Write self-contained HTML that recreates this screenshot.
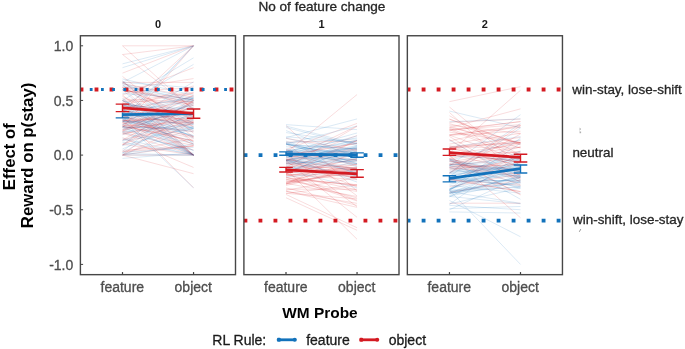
<!DOCTYPE html><html><head><meta charset="utf-8"><title>plot</title>
<style>html,body{margin:0;padding:0;background:#fff;}body{width:685px;height:349px;overflow:hidden;}svg{display:block;will-change:transform;}text{stroke-width:0.3px;paint-order:stroke;font-family:"Liberation Sans",Arial,Helvetica,sans-serif;}</style></head><body>
<svg width="685" height="349" viewBox="0 0 685 349">
<rect width="685" height="349" fill="#fff"/>
<text x="321.9" y="10.5" font-size="13.6" text-anchor="middle" fill="#262626" stroke="#262626">No of feature change</text>
<clipPath id="c0"><rect x="80.40" y="35.75" width="155.10" height="238.90"/></clipPath>
<g clip-path="url(#c0)">
<g stroke-width="0.8" fill="none" stroke-opacity="0.19">
<line x1="122.50" y1="87.33" x2="193.55" y2="155.10" stroke="#d41a22"/>
<line x1="122.50" y1="89.23" x2="193.55" y2="122.96" stroke="#1272bb"/>
<line x1="122.50" y1="155.10" x2="193.55" y2="155.10" stroke="#d41a22"/>
<line x1="122.50" y1="45.80" x2="193.55" y2="45.80" stroke="#d41a22"/>
<line x1="122.50" y1="126.53" x2="193.55" y2="137.65" stroke="#d41a22"/>
<line x1="122.50" y1="129.79" x2="193.55" y2="107.20" stroke="#1272bb"/>
<line x1="122.50" y1="119.03" x2="193.55" y2="155.10" stroke="#1272bb"/>
<line x1="122.50" y1="142.40" x2="193.55" y2="154.56" stroke="#1272bb"/>
<line x1="122.50" y1="90.28" x2="193.55" y2="102.03" stroke="#1272bb"/>
<line x1="122.50" y1="145.70" x2="193.55" y2="126.51" stroke="#1272bb"/>
<line x1="122.50" y1="54.54" x2="193.55" y2="109.19" stroke="#d41a22"/>
<line x1="122.50" y1="121.41" x2="193.55" y2="122.95" stroke="#1272bb"/>
<line x1="122.50" y1="120.96" x2="193.55" y2="127.94" stroke="#1272bb"/>
<line x1="122.50" y1="81.87" x2="193.55" y2="127.03" stroke="#d41a22"/>
<line x1="122.50" y1="134.63" x2="193.55" y2="114.32" stroke="#d41a22"/>
<line x1="122.50" y1="54.54" x2="193.55" y2="45.80" stroke="#d41a22"/>
<line x1="122.50" y1="120.45" x2="193.55" y2="117.86" stroke="#d41a22"/>
<line x1="122.50" y1="155.10" x2="193.55" y2="127.77" stroke="#1272bb"/>
<line x1="122.50" y1="102.15" x2="193.55" y2="92.04" stroke="#d41a22"/>
<line x1="122.50" y1="154.85" x2="193.55" y2="145.54" stroke="#d41a22"/>
<line x1="122.50" y1="145.24" x2="193.55" y2="104.88" stroke="#d41a22"/>
<line x1="122.50" y1="111.38" x2="193.55" y2="155.10" stroke="#1272bb"/>
<line x1="122.50" y1="118.88" x2="193.55" y2="135.49" stroke="#1272bb"/>
<line x1="122.50" y1="155.10" x2="193.55" y2="144.17" stroke="#1272bb"/>
<line x1="122.50" y1="124.14" x2="193.55" y2="107.46" stroke="#d41a22"/>
<line x1="122.50" y1="129.57" x2="193.55" y2="100.50" stroke="#d41a22"/>
<line x1="122.50" y1="104.35" x2="193.55" y2="93.06" stroke="#d41a22"/>
<line x1="122.50" y1="100.91" x2="193.55" y2="124.28" stroke="#1272bb"/>
<line x1="122.50" y1="111.38" x2="193.55" y2="45.80" stroke="#d41a22"/>
<line x1="122.50" y1="109.19" x2="193.55" y2="155.10" stroke="#d41a22"/>
<line x1="122.50" y1="103.20" x2="193.55" y2="116.06" stroke="#d41a22"/>
<line x1="122.50" y1="121.64" x2="193.55" y2="131.88" stroke="#1272bb"/>
<line x1="122.50" y1="78.94" x2="193.55" y2="95.19" stroke="#1272bb"/>
<line x1="122.50" y1="116.80" x2="193.55" y2="155.10" stroke="#1272bb"/>
<line x1="122.50" y1="93.43" x2="193.55" y2="99.17" stroke="#1272bb"/>
<line x1="122.50" y1="45.80" x2="193.55" y2="110.29" stroke="#d41a22"/>
<line x1="122.50" y1="80.77" x2="193.55" y2="144.11" stroke="#1272bb"/>
<line x1="122.50" y1="126.57" x2="193.55" y2="130.13" stroke="#1272bb"/>
<line x1="122.50" y1="109.59" x2="193.55" y2="85.83" stroke="#d41a22"/>
<line x1="122.50" y1="151.22" x2="193.55" y2="97.13" stroke="#1272bb"/>
<line x1="122.50" y1="103.18" x2="193.55" y2="123.01" stroke="#d41a22"/>
<line x1="122.50" y1="144.40" x2="193.55" y2="100.15" stroke="#d41a22"/>
<line x1="122.50" y1="103.85" x2="193.55" y2="113.39" stroke="#1272bb"/>
<line x1="122.50" y1="82.42" x2="193.55" y2="82.42" stroke="#d41a22"/>
<line x1="122.50" y1="158.38" x2="193.55" y2="152.91" stroke="#1272bb"/>
<line x1="122.50" y1="130.98" x2="193.55" y2="95.45" stroke="#d41a22"/>
<line x1="122.50" y1="116.46" x2="193.55" y2="117.08" stroke="#1272bb"/>
<line x1="122.50" y1="116.33" x2="193.55" y2="144.30" stroke="#d41a22"/>
<line x1="122.50" y1="100.66" x2="193.55" y2="103.62" stroke="#d41a22"/>
<line x1="122.50" y1="113.57" x2="193.55" y2="155.10" stroke="#1272bb"/>
<line x1="122.50" y1="110.41" x2="193.55" y2="96.70" stroke="#1272bb"/>
<line x1="122.50" y1="120.87" x2="193.55" y2="114.07" stroke="#d41a22"/>
<line x1="122.50" y1="126.20" x2="193.55" y2="143.84" stroke="#1272bb"/>
<line x1="122.50" y1="116.30" x2="193.55" y2="187.89" stroke="#d41a22"/>
<line x1="122.50" y1="105.26" x2="193.55" y2="116.70" stroke="#1272bb"/>
<line x1="122.50" y1="104.81" x2="193.55" y2="124.71" stroke="#1272bb"/>
<line x1="122.50" y1="122.92" x2="193.55" y2="136.46" stroke="#d41a22"/>
<line x1="122.50" y1="117.29" x2="193.55" y2="104.90" stroke="#1272bb"/>
<line x1="122.50" y1="67.66" x2="193.55" y2="45.80" stroke="#1272bb"/>
<line x1="122.50" y1="126.83" x2="193.55" y2="98.04" stroke="#1272bb"/>
<line x1="122.50" y1="124.69" x2="193.55" y2="111.55" stroke="#1272bb"/>
<line x1="122.50" y1="112.75" x2="193.55" y2="126.98" stroke="#1272bb"/>
<line x1="122.50" y1="132.03" x2="193.55" y2="149.98" stroke="#d41a22"/>
<line x1="122.50" y1="82.26" x2="193.55" y2="87.88" stroke="#1272bb"/>
<line x1="122.50" y1="83.68" x2="193.55" y2="98.62" stroke="#1272bb"/>
<line x1="122.50" y1="89.52" x2="193.55" y2="155.10" stroke="#1272bb"/>
<line x1="122.50" y1="131.35" x2="193.55" y2="103.76" stroke="#d41a22"/>
<line x1="122.50" y1="115.06" x2="193.55" y2="144.16" stroke="#d41a22"/>
<line x1="122.50" y1="105.31" x2="193.55" y2="109.04" stroke="#1272bb"/>
<line x1="122.50" y1="115.76" x2="193.55" y2="135.66" stroke="#1272bb"/>
<line x1="122.50" y1="144.46" x2="193.55" y2="118.40" stroke="#d41a22"/>
<line x1="122.50" y1="100.45" x2="193.55" y2="57.82" stroke="#1272bb"/>
<line x1="122.50" y1="94.98" x2="193.55" y2="67.66" stroke="#d41a22"/>
<line x1="122.50" y1="103.73" x2="193.55" y2="155.10" stroke="#1272bb"/>
<line x1="122.50" y1="128.05" x2="193.55" y2="122.26" stroke="#d41a22"/>
<line x1="122.50" y1="126.28" x2="193.55" y2="140.64" stroke="#d41a22"/>
<line x1="122.50" y1="151.91" x2="193.55" y2="146.26" stroke="#d41a22"/>
<line x1="122.50" y1="152.57" x2="193.55" y2="147.41" stroke="#1272bb"/>
<line x1="122.50" y1="117.46" x2="193.55" y2="99.19" stroke="#d41a22"/>
<line x1="122.50" y1="139.94" x2="193.55" y2="123.59" stroke="#d41a22"/>
<line x1="122.50" y1="83.44" x2="193.55" y2="108.91" stroke="#1272bb"/>
<line x1="122.50" y1="132.79" x2="193.55" y2="150.33" stroke="#1272bb"/>
<line x1="122.50" y1="130.67" x2="193.55" y2="145.47" stroke="#d41a22"/>
<line x1="122.50" y1="115.62" x2="193.55" y2="108.90" stroke="#d41a22"/>
<line x1="122.50" y1="98.26" x2="193.55" y2="155.10" stroke="#1272bb"/>
<line x1="122.50" y1="153.55" x2="193.55" y2="155.10" stroke="#1272bb"/>
<line x1="122.50" y1="112.32" x2="193.55" y2="92.96" stroke="#d41a22"/>
<line x1="122.50" y1="122.31" x2="193.55" y2="45.80" stroke="#1272bb"/>
<line x1="122.50" y1="105.91" x2="193.55" y2="64.38" stroke="#1272bb"/>
<line x1="122.50" y1="155.10" x2="193.55" y2="122.31" stroke="#d41a22"/>
<line x1="122.50" y1="83.52" x2="193.55" y2="97.16" stroke="#d41a22"/>
<line x1="122.50" y1="144.17" x2="193.55" y2="155.10" stroke="#d41a22"/>
<line x1="122.50" y1="139.95" x2="193.55" y2="101.39" stroke="#d41a22"/>
<line x1="122.50" y1="121.83" x2="193.55" y2="120.18" stroke="#1272bb"/>
<line x1="122.50" y1="100.45" x2="193.55" y2="128.84" stroke="#1272bb"/>
<line x1="122.50" y1="87.87" x2="193.55" y2="117.15" stroke="#d41a22"/>
<line x1="122.50" y1="91.84" x2="193.55" y2="87.69" stroke="#d41a22"/>
<line x1="122.50" y1="134.73" x2="193.55" y2="102.06" stroke="#1272bb"/>
<line x1="122.50" y1="152.91" x2="193.55" y2="111.38" stroke="#1272bb"/>
<line x1="122.50" y1="119.61" x2="193.55" y2="142.06" stroke="#1272bb"/>
<line x1="122.50" y1="107.14" x2="193.55" y2="98.50" stroke="#1272bb"/>
<line x1="122.50" y1="87.43" x2="193.55" y2="105.66" stroke="#d41a22"/>
<line x1="122.50" y1="155.10" x2="193.55" y2="155.10" stroke="#1272bb"/>
<line x1="122.50" y1="90.13" x2="193.55" y2="102.70" stroke="#d41a22"/>
<line x1="122.50" y1="140.52" x2="193.55" y2="114.78" stroke="#1272bb"/>
<line x1="122.50" y1="100.45" x2="193.55" y2="138.13" stroke="#1272bb"/>
<line x1="122.50" y1="105.91" x2="193.55" y2="155.10" stroke="#d41a22"/>
<line x1="122.50" y1="100.45" x2="193.55" y2="155.10" stroke="#d41a22"/>
<line x1="122.50" y1="114.66" x2="193.55" y2="96.83" stroke="#1272bb"/>
<line x1="122.50" y1="76.40" x2="193.55" y2="133.24" stroke="#d41a22"/>
<line x1="122.50" y1="119.95" x2="193.55" y2="105.77" stroke="#1272bb"/>
<line x1="122.50" y1="150.27" x2="193.55" y2="145.99" stroke="#d41a22"/>
<line x1="122.50" y1="111.21" x2="193.55" y2="114.96" stroke="#1272bb"/>
<line x1="122.50" y1="112.68" x2="193.55" y2="100.45" stroke="#1272bb"/>
<line x1="122.50" y1="137.61" x2="193.55" y2="167.45" stroke="#d41a22"/>
<line x1="122.50" y1="89.52" x2="193.55" y2="78.59" stroke="#d41a22"/>
<line x1="122.50" y1="122.06" x2="193.55" y2="94.94" stroke="#d41a22"/>
<line x1="122.50" y1="133.42" x2="193.55" y2="123.04" stroke="#d41a22"/>
<line x1="122.50" y1="86.45" x2="193.55" y2="100.45" stroke="#1272bb"/>
<line x1="122.50" y1="155.10" x2="193.55" y2="173.68" stroke="#d41a22"/>
<line x1="122.50" y1="120.86" x2="193.55" y2="118.71" stroke="#d41a22"/>
<line x1="122.50" y1="113.41" x2="193.55" y2="125.86" stroke="#d41a22"/>
<line x1="122.50" y1="112.26" x2="193.55" y2="114.48" stroke="#d41a22"/>
<line x1="122.50" y1="138.70" x2="193.55" y2="155.10" stroke="#1272bb"/>
<line x1="122.50" y1="124.83" x2="193.55" y2="81.87" stroke="#1272bb"/>
<line x1="122.50" y1="151.82" x2="193.55" y2="138.70" stroke="#d41a22"/>
<line x1="122.50" y1="96.54" x2="193.55" y2="130.67" stroke="#d41a22"/>
<line x1="122.50" y1="109.60" x2="193.55" y2="136.76" stroke="#1272bb"/>
<line x1="122.50" y1="108.23" x2="193.55" y2="150.78" stroke="#1272bb"/>
<line x1="122.50" y1="109.94" x2="193.55" y2="128.12" stroke="#1272bb"/>
<line x1="122.50" y1="122.31" x2="193.55" y2="155.10" stroke="#d41a22"/>
<line x1="122.50" y1="87.55" x2="193.55" y2="119.69" stroke="#d41a22"/>
<line x1="122.50" y1="94.98" x2="193.55" y2="155.10" stroke="#d41a22"/>
<line x1="122.50" y1="145.48" x2="193.55" y2="86.60" stroke="#1272bb"/>
<line x1="122.50" y1="123.15" x2="193.55" y2="112.73" stroke="#d41a22"/>
<line x1="122.50" y1="84.85" x2="193.55" y2="141.95" stroke="#d41a22"/>
<line x1="122.50" y1="110.31" x2="193.55" y2="121.15" stroke="#d41a22"/>
<line x1="122.50" y1="133.24" x2="193.55" y2="155.10" stroke="#d41a22"/>
<line x1="122.50" y1="63.83" x2="193.55" y2="45.80" stroke="#1272bb"/>
<line x1="122.50" y1="89.95" x2="193.55" y2="99.62" stroke="#d41a22"/>
<line x1="122.50" y1="127.32" x2="193.55" y2="128.34" stroke="#1272bb"/>
<line x1="122.50" y1="85.22" x2="193.55" y2="100.45" stroke="#1272bb"/>
<line x1="122.50" y1="120.05" x2="193.55" y2="136.64" stroke="#d41a22"/>
<line x1="122.50" y1="148.88" x2="193.55" y2="120.21" stroke="#1272bb"/>
<line x1="122.50" y1="120.12" x2="193.55" y2="187.89" stroke="#1272bb"/>
<line x1="122.50" y1="124.80" x2="193.55" y2="131.55" stroke="#d41a22"/>
<line x1="122.50" y1="141.03" x2="193.55" y2="128.66" stroke="#1272bb"/>
<line x1="122.50" y1="155.10" x2="193.55" y2="100.45" stroke="#d41a22"/>
<line x1="122.50" y1="99.03" x2="193.55" y2="102.20" stroke="#d41a22"/>
<line x1="122.50" y1="126.66" x2="193.55" y2="155.10" stroke="#1272bb"/>
<line x1="122.50" y1="119.03" x2="193.55" y2="45.80" stroke="#1272bb"/>
<line x1="122.50" y1="132.02" x2="193.55" y2="103.44" stroke="#1272bb"/>
<line x1="122.50" y1="127.77" x2="193.55" y2="155.10" stroke="#1272bb"/>
<line x1="122.50" y1="81.43" x2="193.55" y2="137.05" stroke="#d41a22"/>
<line x1="122.50" y1="73.12" x2="193.55" y2="45.80" stroke="#d41a22"/>
<line x1="122.50" y1="117.67" x2="193.55" y2="122.26" stroke="#d41a22"/>
<line x1="122.50" y1="125.72" x2="193.55" y2="121.62" stroke="#d41a22"/>
<line x1="122.50" y1="82.42" x2="193.55" y2="45.80" stroke="#1272bb"/>
<line x1="122.50" y1="127.77" x2="193.55" y2="45.80" stroke="#d41a22"/>
<line x1="122.50" y1="125.28" x2="193.55" y2="141.06" stroke="#d41a22"/>
<line x1="122.50" y1="132.11" x2="193.55" y2="124.05" stroke="#1272bb"/>
<line x1="122.50" y1="129.77" x2="193.55" y2="118.84" stroke="#d41a22"/>
<line x1="122.50" y1="105.59" x2="193.55" y2="111.55" stroke="#d41a22"/>
</g>
<line x1="79.56" y1="89.52" x2="240.50" y2="89.52" stroke="#d41a22" stroke-width="3.85" stroke-dasharray="3.85 11.15"/>
<line x1="89.77" y1="89.52" x2="240.50" y2="89.52" stroke="#1272bb" stroke-width="2.80" stroke-dasharray="2.80 8.40"/>
<g stroke="#1272bb" fill="none">
<line x1="122.50" y1="114.60" x2="193.55" y2="113.60" stroke-width="2.8"/>
<path d="M122.50 112.40V117.90M115.70 117.90H129.30" stroke-width="1.4"/>
</g>
<g stroke="#d41a22" fill="none">
<line x1="122.50" y1="107.80" x2="193.55" y2="113.40" stroke-width="2.8"/>
<path d="M122.50 104.10V111.60M115.70 104.10H129.30M115.70 111.60H129.30" stroke-width="1.4"/>
<path d="M193.55 109.00V118.30M186.75 109.00H200.35M186.75 118.30H200.35" stroke-width="1.4"/>
</g>
</g>
<rect x="80.40" y="35.75" width="155.10" height="238.90" fill="none" stroke="#464646" stroke-width="1.4"/>
<line x1="122.50" y1="274.65" x2="122.50" y2="272.05" stroke="#404040" stroke-width="1.2"/>
<line x1="193.55" y1="274.65" x2="193.55" y2="272.05" stroke="#404040" stroke-width="1.2"/>
<text x="122.30" y="291.6" font-size="14" text-anchor="middle" fill="#4d4d4d" stroke="#4d4d4d">feature</text>
<text x="193.25" y="291.6" font-size="14" text-anchor="middle" fill="#4d4d4d" stroke="#4d4d4d">object</text>
<text x="157.95" y="28" font-size="11" font-weight="bold" text-anchor="middle" fill="#1a1a1a">0</text>
<clipPath id="c1"><rect x="243.90" y="35.75" width="155.10" height="238.90"/></clipPath>
<g clip-path="url(#c1)">
<g stroke-width="0.8" fill="none" stroke-opacity="0.19">
<line x1="286.00" y1="160.25" x2="357.05" y2="179.30" stroke="#1272bb"/>
<line x1="286.00" y1="153.54" x2="357.05" y2="148.48" stroke="#1272bb"/>
<line x1="286.00" y1="173.85" x2="357.05" y2="158.48" stroke="#d41a22"/>
<line x1="286.00" y1="161.71" x2="357.05" y2="149.78" stroke="#d41a22"/>
<line x1="286.00" y1="125.59" x2="357.05" y2="191.17" stroke="#d41a22"/>
<line x1="286.00" y1="155.06" x2="357.05" y2="143.31" stroke="#d41a22"/>
<line x1="286.00" y1="174.53" x2="357.05" y2="179.73" stroke="#d41a22"/>
<line x1="286.00" y1="160.09" x2="357.05" y2="147.34" stroke="#1272bb"/>
<line x1="286.00" y1="169.89" x2="357.05" y2="187.87" stroke="#1272bb"/>
<line x1="286.00" y1="160.85" x2="357.05" y2="146.28" stroke="#1272bb"/>
<line x1="286.00" y1="190.30" x2="357.05" y2="177.52" stroke="#d41a22"/>
<line x1="286.00" y1="154.64" x2="357.05" y2="169.50" stroke="#d41a22"/>
<line x1="286.00" y1="172.76" x2="357.05" y2="167.40" stroke="#d41a22"/>
<line x1="286.00" y1="163.51" x2="357.05" y2="160.95" stroke="#1272bb"/>
<line x1="286.00" y1="174.68" x2="357.05" y2="189.99" stroke="#d41a22"/>
<line x1="286.00" y1="187.89" x2="357.05" y2="205.38" stroke="#d41a22"/>
<line x1="286.00" y1="168.28" x2="357.05" y2="171.52" stroke="#d41a22"/>
<line x1="286.00" y1="166.33" x2="357.05" y2="168.79" stroke="#d41a22"/>
<line x1="286.00" y1="162.42" x2="357.05" y2="152.01" stroke="#1272bb"/>
<line x1="286.00" y1="176.96" x2="357.05" y2="201.01" stroke="#d41a22"/>
<line x1="286.00" y1="164.53" x2="357.05" y2="140.33" stroke="#1272bb"/>
<line x1="286.00" y1="157.17" x2="357.05" y2="147.78" stroke="#1272bb"/>
<line x1="286.00" y1="161.60" x2="357.05" y2="176.06" stroke="#1272bb"/>
<line x1="286.00" y1="143.29" x2="357.05" y2="195.89" stroke="#d41a22"/>
<line x1="286.00" y1="144.30" x2="357.05" y2="149.07" stroke="#1272bb"/>
<line x1="286.00" y1="146.72" x2="357.05" y2="153.12" stroke="#1272bb"/>
<line x1="286.00" y1="165.65" x2="357.05" y2="152.50" stroke="#1272bb"/>
<line x1="286.00" y1="183.09" x2="357.05" y2="160.38" stroke="#d41a22"/>
<line x1="286.00" y1="151.12" x2="357.05" y2="137.73" stroke="#1272bb"/>
<line x1="286.00" y1="141.17" x2="357.05" y2="163.54" stroke="#1272bb"/>
<line x1="286.00" y1="168.98" x2="357.05" y2="163.43" stroke="#1272bb"/>
<line x1="286.00" y1="172.66" x2="357.05" y2="169.20" stroke="#d41a22"/>
<line x1="286.00" y1="163.32" x2="357.05" y2="177.41" stroke="#d41a22"/>
<line x1="286.00" y1="197.73" x2="357.05" y2="230.30" stroke="#d41a22"/>
<line x1="286.00" y1="185.48" x2="357.05" y2="168.57" stroke="#d41a22"/>
<line x1="286.00" y1="150.37" x2="357.05" y2="143.37" stroke="#1272bb"/>
<line x1="286.00" y1="150.68" x2="357.05" y2="151.80" stroke="#1272bb"/>
<line x1="286.00" y1="160.10" x2="357.05" y2="170.63" stroke="#1272bb"/>
<line x1="286.00" y1="163.43" x2="357.05" y2="159.05" stroke="#1272bb"/>
<line x1="286.00" y1="153.59" x2="357.05" y2="206.71" stroke="#d41a22"/>
<line x1="286.00" y1="159.61" x2="357.05" y2="186.95" stroke="#d41a22"/>
<line x1="286.00" y1="157.70" x2="357.05" y2="158.77" stroke="#1272bb"/>
<line x1="286.00" y1="152.67" x2="357.05" y2="132.98" stroke="#1272bb"/>
<line x1="286.00" y1="167.91" x2="357.05" y2="146.48" stroke="#1272bb"/>
<line x1="286.00" y1="182.91" x2="357.05" y2="172.44" stroke="#d41a22"/>
<line x1="286.00" y1="155.46" x2="357.05" y2="149.84" stroke="#1272bb"/>
<line x1="286.00" y1="174.18" x2="357.05" y2="140.54" stroke="#d41a22"/>
<line x1="286.00" y1="143.72" x2="357.05" y2="166.82" stroke="#1272bb"/>
<line x1="286.00" y1="138.39" x2="357.05" y2="150.23" stroke="#d41a22"/>
<line x1="286.00" y1="137.61" x2="357.05" y2="118.92" stroke="#1272bb"/>
<line x1="286.00" y1="167.49" x2="357.05" y2="126.33" stroke="#d41a22"/>
<line x1="286.00" y1="171.31" x2="357.05" y2="149.30" stroke="#1272bb"/>
<line x1="286.00" y1="142.12" x2="357.05" y2="141.17" stroke="#d41a22"/>
<line x1="286.00" y1="191.17" x2="357.05" y2="207.35" stroke="#d41a22"/>
<line x1="286.00" y1="170.39" x2="357.05" y2="164.67" stroke="#d41a22"/>
<line x1="286.00" y1="150.03" x2="357.05" y2="164.75" stroke="#d41a22"/>
<line x1="286.00" y1="124.61" x2="357.05" y2="129.63" stroke="#1272bb"/>
<line x1="286.00" y1="143.95" x2="357.05" y2="157.74" stroke="#1272bb"/>
<line x1="286.00" y1="142.62" x2="357.05" y2="138.97" stroke="#1272bb"/>
<line x1="286.00" y1="175.44" x2="357.05" y2="167.06" stroke="#d41a22"/>
<line x1="286.00" y1="143.34" x2="357.05" y2="165.96" stroke="#1272bb"/>
<line x1="286.00" y1="171.48" x2="357.05" y2="154.20" stroke="#d41a22"/>
<line x1="286.00" y1="184.13" x2="357.05" y2="167.66" stroke="#d41a22"/>
<line x1="286.00" y1="144.25" x2="357.05" y2="156.98" stroke="#1272bb"/>
<line x1="286.00" y1="152.43" x2="357.05" y2="156.73" stroke="#1272bb"/>
<line x1="286.00" y1="161.90" x2="357.05" y2="161.83" stroke="#1272bb"/>
<line x1="286.00" y1="152.27" x2="357.05" y2="160.10" stroke="#d41a22"/>
<line x1="286.00" y1="160.61" x2="357.05" y2="135.60" stroke="#d41a22"/>
<line x1="286.00" y1="163.88" x2="357.05" y2="170.46" stroke="#d41a22"/>
<line x1="286.00" y1="168.04" x2="357.05" y2="160.07" stroke="#1272bb"/>
<line x1="286.00" y1="159.42" x2="357.05" y2="156.25" stroke="#1272bb"/>
<line x1="286.00" y1="169.98" x2="357.05" y2="140.58" stroke="#d41a22"/>
<line x1="286.00" y1="160.29" x2="357.05" y2="145.46" stroke="#1272bb"/>
<line x1="286.00" y1="126.03" x2="357.05" y2="144.17" stroke="#1272bb"/>
<line x1="286.00" y1="181.94" x2="357.05" y2="163.88" stroke="#d41a22"/>
<line x1="286.00" y1="144.84" x2="357.05" y2="148.96" stroke="#1272bb"/>
<line x1="286.00" y1="173.07" x2="357.05" y2="159.01" stroke="#d41a22"/>
<line x1="286.00" y1="149.98" x2="357.05" y2="157.58" stroke="#1272bb"/>
<line x1="286.00" y1="179.09" x2="357.05" y2="197.93" stroke="#d41a22"/>
<line x1="286.00" y1="169.03" x2="357.05" y2="174.18" stroke="#d41a22"/>
<line x1="286.00" y1="183.25" x2="357.05" y2="196.52" stroke="#d41a22"/>
<line x1="286.00" y1="127.48" x2="357.05" y2="145.50" stroke="#1272bb"/>
<line x1="286.00" y1="184.10" x2="357.05" y2="150.43" stroke="#d41a22"/>
<line x1="286.00" y1="160.30" x2="357.05" y2="125.89" stroke="#d41a22"/>
<line x1="286.00" y1="160.56" x2="357.05" y2="217.29" stroke="#d41a22"/>
<line x1="286.00" y1="156.48" x2="357.05" y2="139.99" stroke="#1272bb"/>
<line x1="286.00" y1="176.85" x2="357.05" y2="171.04" stroke="#1272bb"/>
<line x1="286.00" y1="177.96" x2="357.05" y2="184.83" stroke="#d41a22"/>
<line x1="286.00" y1="179.44" x2="357.05" y2="184.76" stroke="#d41a22"/>
<line x1="286.00" y1="153.11" x2="357.05" y2="140.47" stroke="#1272bb"/>
<line x1="286.00" y1="138.13" x2="357.05" y2="154.66" stroke="#1272bb"/>
<line x1="286.00" y1="160.53" x2="357.05" y2="148.53" stroke="#d41a22"/>
<line x1="286.00" y1="149.63" x2="357.05" y2="123.40" stroke="#d41a22"/>
<line x1="286.00" y1="156.17" x2="357.05" y2="160.41" stroke="#1272bb"/>
<line x1="286.00" y1="155.77" x2="357.05" y2="143.49" stroke="#d41a22"/>
<line x1="286.00" y1="144.17" x2="357.05" y2="126.03" stroke="#1272bb"/>
<line x1="286.00" y1="184.20" x2="357.05" y2="169.20" stroke="#d41a22"/>
<line x1="286.00" y1="151.28" x2="357.05" y2="173.59" stroke="#1272bb"/>
<line x1="286.00" y1="152.91" x2="357.05" y2="94.55" stroke="#d41a22"/>
<line x1="286.00" y1="142.50" x2="357.05" y2="163.63" stroke="#1272bb"/>
<line x1="286.00" y1="166.84" x2="357.05" y2="175.67" stroke="#1272bb"/>
<line x1="286.00" y1="157.22" x2="357.05" y2="152.86" stroke="#d41a22"/>
<line x1="286.00" y1="153.81" x2="357.05" y2="153.99" stroke="#1272bb"/>
<line x1="286.00" y1="191.22" x2="357.05" y2="203.35" stroke="#d41a22"/>
<line x1="286.00" y1="181.94" x2="357.05" y2="172.24" stroke="#d41a22"/>
<line x1="286.00" y1="193.35" x2="357.05" y2="198.82" stroke="#d41a22"/>
<line x1="286.00" y1="194.45" x2="357.05" y2="227.78" stroke="#d41a22"/>
<line x1="286.00" y1="171.77" x2="357.05" y2="172.28" stroke="#d41a22"/>
<line x1="286.00" y1="148.63" x2="357.05" y2="173.66" stroke="#1272bb"/>
<line x1="286.00" y1="168.55" x2="357.05" y2="177.53" stroke="#d41a22"/>
<line x1="286.00" y1="169.31" x2="357.05" y2="239.26" stroke="#d41a22"/>
<line x1="286.00" y1="159.32" x2="357.05" y2="169.04" stroke="#d41a22"/>
<line x1="286.00" y1="160.00" x2="357.05" y2="168.68" stroke="#1272bb"/>
<line x1="286.00" y1="151.55" x2="357.05" y2="163.98" stroke="#1272bb"/>
<line x1="286.00" y1="174.20" x2="357.05" y2="176.15" stroke="#d41a22"/>
<line x1="286.00" y1="173.38" x2="357.05" y2="200.26" stroke="#d41a22"/>
<line x1="286.00" y1="132.57" x2="357.05" y2="143.45" stroke="#1272bb"/>
<line x1="286.00" y1="175.84" x2="357.05" y2="168.31" stroke="#d41a22"/>
<line x1="286.00" y1="160.36" x2="357.05" y2="159.24" stroke="#1272bb"/>
<line x1="286.00" y1="155.12" x2="357.05" y2="151.57" stroke="#1272bb"/>
<line x1="286.00" y1="180.42" x2="357.05" y2="191.44" stroke="#d41a22"/>
<line x1="286.00" y1="154.65" x2="357.05" y2="135.95" stroke="#1272bb"/>
<line x1="286.00" y1="193.29" x2="357.05" y2="185.08" stroke="#d41a22"/>
<line x1="286.00" y1="189.21" x2="357.05" y2="189.20" stroke="#d41a22"/>
<line x1="286.00" y1="172.20" x2="357.05" y2="147.81" stroke="#1272bb"/>
<line x1="286.00" y1="162.64" x2="357.05" y2="168.11" stroke="#d41a22"/>
<line x1="286.00" y1="158.38" x2="357.05" y2="179.10" stroke="#d41a22"/>
<line x1="286.00" y1="136.74" x2="357.05" y2="142.51" stroke="#1272bb"/>
<line x1="286.00" y1="177.51" x2="357.05" y2="185.83" stroke="#d41a22"/>
<line x1="286.00" y1="156.44" x2="357.05" y2="182.07" stroke="#1272bb"/>
<line x1="286.00" y1="130.57" x2="357.05" y2="157.10" stroke="#1272bb"/>
</g>
<line x1="243.50" y1="220.68" x2="404.00" y2="220.68" stroke="#d41a22" stroke-width="3.85" stroke-dasharray="3.85 11.15"/>
<line x1="243.60" y1="155.10" x2="404.00" y2="155.10" stroke="#1272bb" stroke-width="3.85" stroke-dasharray="3.85 11.15"/>
<g stroke="#d41a22" fill="none">
<line x1="286.00" y1="169.90" x2="357.05" y2="173.90" stroke-width="2.8"/>
<path d="M286.00 167.40V172.00M279.20 167.40H292.80M279.20 172.00H292.80" stroke-width="1.4"/>
<path d="M357.05 169.60V177.20M350.25 169.60H363.85M350.25 177.20H363.85" stroke-width="1.4"/>
</g>
<g stroke="#1272bb" fill="none">
<line x1="286.00" y1="154.10" x2="357.05" y2="155.00" stroke-width="2.8"/>
<path d="M286.00 151.90V155.30M279.20 151.90H292.80M279.20 155.30H292.80" stroke-width="1.4"/>
<path d="M357.05 152.90V157.30M350.25 152.90H363.85M350.25 157.30H363.85" stroke-width="1.4"/>
</g>
</g>
<rect x="243.90" y="35.75" width="155.10" height="238.90" fill="none" stroke="#464646" stroke-width="1.4"/>
<line x1="286.00" y1="274.65" x2="286.00" y2="272.05" stroke="#404040" stroke-width="1.2"/>
<line x1="357.05" y1="274.65" x2="357.05" y2="272.05" stroke="#404040" stroke-width="1.2"/>
<text x="285.80" y="291.6" font-size="14" text-anchor="middle" fill="#4d4d4d" stroke="#4d4d4d">feature</text>
<text x="356.75" y="291.6" font-size="14" text-anchor="middle" fill="#4d4d4d" stroke="#4d4d4d">object</text>
<text x="321.45" y="28" font-size="11" font-weight="bold" text-anchor="middle" fill="#1a1a1a">1</text>
<clipPath id="c2"><rect x="407.35" y="35.75" width="155.10" height="238.90"/></clipPath>
<g clip-path="url(#c2)">
<g stroke-width="0.8" fill="none" stroke-opacity="0.19">
<line x1="449.45" y1="129.80" x2="520.50" y2="121.68" stroke="#d41a22"/>
<line x1="449.45" y1="161.59" x2="520.50" y2="177.09" stroke="#1272bb"/>
<line x1="449.45" y1="126.10" x2="520.50" y2="148.03" stroke="#d41a22"/>
<line x1="449.45" y1="167.26" x2="520.50" y2="155.54" stroke="#d41a22"/>
<line x1="449.45" y1="190.08" x2="520.50" y2="264.40" stroke="#1272bb"/>
<line x1="449.45" y1="203.96" x2="520.50" y2="187.89" stroke="#1272bb"/>
<line x1="449.45" y1="181.46" x2="520.50" y2="180.14" stroke="#1272bb"/>
<line x1="449.45" y1="123.64" x2="520.50" y2="142.77" stroke="#d41a22"/>
<line x1="449.45" y1="196.38" x2="520.50" y2="203.74" stroke="#1272bb"/>
<line x1="449.45" y1="122.31" x2="520.50" y2="119.03" stroke="#d41a22"/>
<line x1="449.45" y1="189.82" x2="520.50" y2="154.04" stroke="#1272bb"/>
<line x1="449.45" y1="193.68" x2="520.50" y2="177.48" stroke="#1272bb"/>
<line x1="449.45" y1="173.60" x2="520.50" y2="171.26" stroke="#1272bb"/>
<line x1="449.45" y1="190.33" x2="520.50" y2="182.77" stroke="#1272bb"/>
<line x1="449.45" y1="147.75" x2="520.50" y2="163.02" stroke="#d41a22"/>
<line x1="449.45" y1="189.51" x2="520.50" y2="160.78" stroke="#1272bb"/>
<line x1="449.45" y1="132.08" x2="520.50" y2="142.68" stroke="#d41a22"/>
<line x1="449.45" y1="165.20" x2="520.50" y2="160.30" stroke="#1272bb"/>
<line x1="449.45" y1="141.03" x2="520.50" y2="125.46" stroke="#d41a22"/>
<line x1="449.45" y1="159.41" x2="520.50" y2="199.27" stroke="#1272bb"/>
<line x1="449.45" y1="172.91" x2="520.50" y2="125.82" stroke="#d41a22"/>
<line x1="449.45" y1="153.56" x2="520.50" y2="171.92" stroke="#d41a22"/>
<line x1="449.45" y1="188.38" x2="520.50" y2="165.02" stroke="#1272bb"/>
<line x1="449.45" y1="165.84" x2="520.50" y2="171.39" stroke="#1272bb"/>
<line x1="449.45" y1="147.42" x2="520.50" y2="136.54" stroke="#1272bb"/>
<line x1="449.45" y1="185.29" x2="520.50" y2="193.23" stroke="#1272bb"/>
<line x1="449.45" y1="147.60" x2="520.50" y2="142.99" stroke="#d41a22"/>
<line x1="449.45" y1="175.88" x2="520.50" y2="164.58" stroke="#1272bb"/>
<line x1="449.45" y1="192.37" x2="520.50" y2="182.11" stroke="#1272bb"/>
<line x1="449.45" y1="129.67" x2="520.50" y2="157.97" stroke="#d41a22"/>
<line x1="449.45" y1="179.64" x2="520.50" y2="185.35" stroke="#d41a22"/>
<line x1="449.45" y1="204.31" x2="520.50" y2="154.09" stroke="#1272bb"/>
<line x1="449.45" y1="159.28" x2="520.50" y2="181.19" stroke="#1272bb"/>
<line x1="449.45" y1="160.88" x2="520.50" y2="179.07" stroke="#d41a22"/>
<line x1="449.45" y1="161.81" x2="520.50" y2="151.26" stroke="#d41a22"/>
<line x1="449.45" y1="115.75" x2="520.50" y2="155.10" stroke="#d41a22"/>
<line x1="449.45" y1="119.27" x2="520.50" y2="144.90" stroke="#d41a22"/>
<line x1="449.45" y1="119.03" x2="520.50" y2="144.17" stroke="#d41a22"/>
<line x1="449.45" y1="196.20" x2="520.50" y2="181.28" stroke="#1272bb"/>
<line x1="449.45" y1="154.53" x2="520.50" y2="161.79" stroke="#d41a22"/>
<line x1="449.45" y1="181.54" x2="520.50" y2="180.33" stroke="#1272bb"/>
<line x1="449.45" y1="189.15" x2="520.50" y2="170.95" stroke="#1272bb"/>
<line x1="449.45" y1="163.60" x2="520.50" y2="155.49" stroke="#d41a22"/>
<line x1="449.45" y1="164.37" x2="520.50" y2="171.29" stroke="#d41a22"/>
<line x1="449.45" y1="101.65" x2="520.50" y2="86.68" stroke="#d41a22"/>
<line x1="449.45" y1="180.14" x2="520.50" y2="175.53" stroke="#1272bb"/>
<line x1="449.45" y1="147.93" x2="520.50" y2="166.17" stroke="#d41a22"/>
<line x1="449.45" y1="172.21" x2="520.50" y2="165.94" stroke="#1272bb"/>
<line x1="449.45" y1="134.65" x2="520.50" y2="127.33" stroke="#d41a22"/>
<line x1="449.45" y1="112.47" x2="520.50" y2="176.96" stroke="#d41a22"/>
<line x1="449.45" y1="193.00" x2="520.50" y2="186.50" stroke="#1272bb"/>
<line x1="449.45" y1="160.21" x2="520.50" y2="184.90" stroke="#d41a22"/>
<line x1="449.45" y1="176.48" x2="520.50" y2="127.74" stroke="#1272bb"/>
<line x1="449.45" y1="147.75" x2="520.50" y2="137.42" stroke="#d41a22"/>
<line x1="449.45" y1="190.87" x2="520.50" y2="187.22" stroke="#1272bb"/>
<line x1="449.45" y1="159.07" x2="520.50" y2="174.77" stroke="#1272bb"/>
<line x1="449.45" y1="164.38" x2="520.50" y2="168.95" stroke="#d41a22"/>
<line x1="449.45" y1="179.42" x2="520.50" y2="191.53" stroke="#d41a22"/>
<line x1="449.45" y1="160.89" x2="520.50" y2="171.02" stroke="#1272bb"/>
<line x1="449.45" y1="208.66" x2="520.50" y2="206.47" stroke="#1272bb"/>
<line x1="449.45" y1="192.48" x2="520.50" y2="180.20" stroke="#d41a22"/>
<line x1="449.45" y1="205.38" x2="520.50" y2="209.75" stroke="#1272bb"/>
<line x1="449.45" y1="190.55" x2="520.50" y2="143.20" stroke="#1272bb"/>
<line x1="449.45" y1="158.67" x2="520.50" y2="194.29" stroke="#d41a22"/>
<line x1="449.45" y1="127.57" x2="520.50" y2="143.13" stroke="#d41a22"/>
<line x1="449.45" y1="160.74" x2="520.50" y2="139.71" stroke="#1272bb"/>
<line x1="449.45" y1="153.31" x2="520.50" y2="161.61" stroke="#d41a22"/>
<line x1="449.45" y1="156.47" x2="520.50" y2="194.92" stroke="#d41a22"/>
<line x1="449.45" y1="121.76" x2="520.50" y2="118.92" stroke="#1272bb"/>
<line x1="449.45" y1="154.25" x2="520.50" y2="152.08" stroke="#d41a22"/>
<line x1="449.45" y1="144.05" x2="520.50" y2="133.32" stroke="#d41a22"/>
<line x1="449.45" y1="151.91" x2="520.50" y2="158.94" stroke="#d41a22"/>
<line x1="449.45" y1="156.07" x2="520.50" y2="159.92" stroke="#1272bb"/>
<line x1="449.45" y1="166.84" x2="520.50" y2="164.49" stroke="#d41a22"/>
<line x1="449.45" y1="172.05" x2="520.50" y2="158.08" stroke="#1272bb"/>
<line x1="449.45" y1="128.40" x2="520.50" y2="155.00" stroke="#d41a22"/>
<line x1="449.45" y1="154.18" x2="520.50" y2="144.03" stroke="#d41a22"/>
<line x1="449.45" y1="180.75" x2="520.50" y2="162.74" stroke="#1272bb"/>
<line x1="449.45" y1="166.03" x2="520.50" y2="114.66" stroke="#1272bb"/>
<line x1="449.45" y1="139.53" x2="520.50" y2="182.49" stroke="#d41a22"/>
<line x1="449.45" y1="180.07" x2="520.50" y2="155.72" stroke="#d41a22"/>
<line x1="449.45" y1="175.77" x2="520.50" y2="162.19" stroke="#1272bb"/>
<line x1="449.45" y1="135.31" x2="520.50" y2="131.20" stroke="#d41a22"/>
<line x1="449.45" y1="158.94" x2="520.50" y2="142.21" stroke="#d41a22"/>
<line x1="449.45" y1="148.50" x2="520.50" y2="140.79" stroke="#d41a22"/>
<line x1="449.45" y1="191.52" x2="520.50" y2="203.39" stroke="#1272bb"/>
<line x1="449.45" y1="169.80" x2="520.50" y2="176.38" stroke="#1272bb"/>
<line x1="449.45" y1="209.75" x2="520.50" y2="176.96" stroke="#1272bb"/>
<line x1="449.45" y1="111.05" x2="520.50" y2="127.77" stroke="#1272bb"/>
<line x1="449.45" y1="146.53" x2="520.50" y2="142.58" stroke="#d41a22"/>
<line x1="449.45" y1="107.01" x2="520.50" y2="166.03" stroke="#d41a22"/>
<line x1="449.45" y1="135.21" x2="520.50" y2="125.71" stroke="#d41a22"/>
<line x1="449.45" y1="124.98" x2="520.50" y2="133.45" stroke="#d41a22"/>
<line x1="449.45" y1="152.91" x2="520.50" y2="90.29" stroke="#d41a22"/>
<line x1="449.45" y1="178.06" x2="520.50" y2="181.81" stroke="#1272bb"/>
<line x1="449.45" y1="170.11" x2="520.50" y2="160.69" stroke="#d41a22"/>
<line x1="449.45" y1="167.43" x2="520.50" y2="188.45" stroke="#1272bb"/>
<line x1="449.45" y1="147.40" x2="520.50" y2="147.14" stroke="#d41a22"/>
<line x1="449.45" y1="127.77" x2="520.50" y2="108.87" stroke="#d41a22"/>
<line x1="449.45" y1="178.87" x2="520.50" y2="185.27" stroke="#1272bb"/>
<line x1="449.45" y1="181.02" x2="520.50" y2="152.28" stroke="#1272bb"/>
<line x1="449.45" y1="140.19" x2="520.50" y2="179.74" stroke="#1272bb"/>
<line x1="449.45" y1="136.49" x2="520.50" y2="178.04" stroke="#d41a22"/>
<line x1="449.45" y1="203.19" x2="520.50" y2="203.19" stroke="#d41a22"/>
<line x1="449.45" y1="135.16" x2="520.50" y2="160.39" stroke="#d41a22"/>
<line x1="449.45" y1="200.46" x2="520.50" y2="236.75" stroke="#1272bb"/>
<line x1="449.45" y1="193.58" x2="520.50" y2="176.60" stroke="#1272bb"/>
<line x1="449.45" y1="178.71" x2="520.50" y2="151.05" stroke="#1272bb"/>
<line x1="449.45" y1="173.21" x2="520.50" y2="134.02" stroke="#d41a22"/>
<line x1="449.45" y1="167.94" x2="520.50" y2="175.98" stroke="#1272bb"/>
<line x1="449.45" y1="189.37" x2="520.50" y2="158.36" stroke="#1272bb"/>
<line x1="449.45" y1="163.88" x2="520.50" y2="170.18" stroke="#1272bb"/>
<line x1="449.45" y1="165.61" x2="520.50" y2="183.29" stroke="#1272bb"/>
<line x1="449.45" y1="211.94" x2="520.50" y2="213.03" stroke="#1272bb"/>
<line x1="449.45" y1="184.16" x2="520.50" y2="171.20" stroke="#1272bb"/>
<line x1="449.45" y1="130.70" x2="520.50" y2="121.50" stroke="#d41a22"/>
<line x1="449.45" y1="195.41" x2="520.50" y2="175.33" stroke="#1272bb"/>
<line x1="449.45" y1="167.71" x2="520.50" y2="174.42" stroke="#d41a22"/>
<line x1="449.45" y1="145.71" x2="520.50" y2="166.66" stroke="#d41a22"/>
<line x1="449.45" y1="155.10" x2="520.50" y2="217.73" stroke="#d41a22"/>
<line x1="449.45" y1="164.92" x2="520.50" y2="146.97" stroke="#d41a22"/>
<line x1="449.45" y1="192.01" x2="520.50" y2="177.02" stroke="#1272bb"/>
<line x1="449.45" y1="178.91" x2="520.50" y2="191.68" stroke="#d41a22"/>
<line x1="449.45" y1="177.30" x2="520.50" y2="186.77" stroke="#1272bb"/>
<line x1="449.45" y1="165.06" x2="520.50" y2="158.01" stroke="#1272bb"/>
<line x1="449.45" y1="129.85" x2="520.50" y2="124.64" stroke="#d41a22"/>
<line x1="449.45" y1="168.37" x2="520.50" y2="164.31" stroke="#d41a22"/>
<line x1="449.45" y1="196.93" x2="520.50" y2="161.66" stroke="#1272bb"/>
<line x1="449.45" y1="193.24" x2="520.50" y2="166.00" stroke="#1272bb"/>
<line x1="449.45" y1="186.71" x2="520.50" y2="174.14" stroke="#d41a22"/>
<line x1="449.45" y1="156.42" x2="520.50" y2="147.21" stroke="#d41a22"/>
<line x1="449.45" y1="172.83" x2="520.50" y2="167.15" stroke="#1272bb"/>
<line x1="449.45" y1="158.51" x2="520.50" y2="178.18" stroke="#d41a22"/>
<line x1="449.45" y1="189.21" x2="520.50" y2="138.10" stroke="#1272bb"/>
<line x1="449.45" y1="173.11" x2="520.50" y2="123.45" stroke="#1272bb"/>
<line x1="449.45" y1="181.78" x2="520.50" y2="167.89" stroke="#1272bb"/>
</g>
<line x1="406.65" y1="89.52" x2="567.45" y2="89.52" stroke="#d41a22" stroke-width="3.85" stroke-dasharray="3.85 11.15"/>
<line x1="406.65" y1="220.68" x2="567.45" y2="220.68" stroke="#1272bb" stroke-width="3.85" stroke-dasharray="3.85 11.15"/>
<g stroke="#1272bb" fill="none">
<line x1="449.45" y1="178.40" x2="520.50" y2="168.70" stroke-width="2.8"/>
<path d="M449.45 175.80V181.90M442.65 175.80H456.25M442.65 181.90H456.25" stroke-width="1.4"/>
<path d="M520.50 165.00V173.00M513.70 165.00H527.30M513.70 173.00H527.30" stroke-width="1.4"/>
</g>
<g stroke="#d41a22" fill="none">
<line x1="449.45" y1="152.70" x2="520.50" y2="157.40" stroke-width="2.8"/>
<path d="M449.45 149.00V155.40M442.65 149.00H456.25M442.65 155.40H456.25" stroke-width="1.4"/>
<path d="M520.50 154.30V162.00M513.70 154.30H527.30M513.70 162.00H527.30" stroke-width="1.4"/>
</g>
</g>
<rect x="407.35" y="35.75" width="155.10" height="238.90" fill="none" stroke="#464646" stroke-width="1.4"/>
<line x1="449.45" y1="274.65" x2="449.45" y2="272.05" stroke="#404040" stroke-width="1.2"/>
<line x1="520.50" y1="274.65" x2="520.50" y2="272.05" stroke="#404040" stroke-width="1.2"/>
<text x="449.25" y="291.6" font-size="14" text-anchor="middle" fill="#4d4d4d" stroke="#4d4d4d">feature</text>
<text x="520.20" y="291.6" font-size="14" text-anchor="middle" fill="#4d4d4d" stroke="#4d4d4d">object</text>
<text x="484.90" y="28" font-size="11" font-weight="bold" text-anchor="middle" fill="#1a1a1a">2</text>
<line x1="80.40" y1="45.80" x2="83.10" y2="45.80" stroke="#404040" stroke-width="1.0"/>
<text x="73.3" y="50.90" font-size="14" text-anchor="end" fill="#4d4d4d" stroke="#4d4d4d">1.0</text>
<line x1="80.40" y1="100.45" x2="83.10" y2="100.45" stroke="#404040" stroke-width="1.0"/>
<text x="73.3" y="105.55" font-size="14" text-anchor="end" fill="#4d4d4d" stroke="#4d4d4d">0.5</text>
<line x1="80.40" y1="155.10" x2="83.10" y2="155.10" stroke="#404040" stroke-width="1.0"/>
<text x="73.3" y="160.20" font-size="14" text-anchor="end" fill="#4d4d4d" stroke="#4d4d4d">0.0</text>
<line x1="80.40" y1="209.75" x2="83.10" y2="209.75" stroke="#404040" stroke-width="1.0"/>
<text x="73.3" y="214.85" font-size="14" text-anchor="end" fill="#4d4d4d" stroke="#4d4d4d">-0.5</text>
<line x1="80.40" y1="264.40" x2="83.10" y2="264.40" stroke="#404040" stroke-width="1.0"/>
<text x="73.3" y="269.50" font-size="14" text-anchor="end" fill="#4d4d4d" stroke="#4d4d4d">-1.0</text>
<text transform="translate(15.3,156.6) rotate(-90)" font-size="16.8" font-weight="bold" text-anchor="middle" fill="#000">Effect of</text>
<text transform="translate(33.0,155.4) rotate(-90)" font-size="16.8" font-weight="bold" text-anchor="middle" fill="#000">Reward on p(stay)</text>
<text x="320" y="318.3" font-size="15.0" textLength="75.4" lengthAdjust="spacingAndGlyphs" font-weight="bold" text-anchor="middle" fill="#000">WM Probe</text>
<text x="572.3" y="93.7" font-size="13.45" fill="#262626" stroke="#262626">win-stay, lose-shift</text>
<text x="572.4" y="156.6" font-size="13.45" fill="#262626" stroke="#262626">neutral</text>
<text x="573.0" y="223.75" font-size="13.45" fill="#262626" stroke="#262626">win-shift, lose-stay</text>
<rect x="579.5" y="128.3" width="1.4" height="1.5" fill="#b5b5b5"/><rect x="579.6" y="131.5" width="1.5" height="1.7" fill="#b0b0b0"/><rect x="579.4" y="127.6" width="0.6" height="5.5" fill="#dcdcdc"/>
<line x1="579.3" y1="231.8" x2="580.8" y2="229.1" stroke="#8c8c8c" stroke-width="0.9"/>
<text x="212.3" y="345.1" font-size="14" fill="#1a1a1a" stroke="#1a1a1a">RL Rule:</text>
<line x1="278.80" y1="339.8" x2="294.80" y2="339.8" stroke="#1272bb" stroke-width="2.8"/>
<rect x="276.90" y="337.85" width="3.9" height="3.9" rx="1.3" fill="#1272bb"/><circle cx="294.80" cy="339.8" r="2.05" fill="#1272bb"/>
<text x="306.20" y="345.1" font-size="14" fill="#1a1a1a" stroke="#1a1a1a">feature</text>
<line x1="361.20" y1="339.8" x2="377.20" y2="339.8" stroke="#d41a22" stroke-width="2.8"/>
<rect x="359.30" y="337.85" width="3.9" height="3.9" rx="1.3" fill="#d41a22"/><circle cx="377.20" cy="339.8" r="2.05" fill="#d41a22"/>
<text x="388.70" y="345.1" font-size="14" fill="#1a1a1a" stroke="#1a1a1a">object</text>
</svg></body></html>
